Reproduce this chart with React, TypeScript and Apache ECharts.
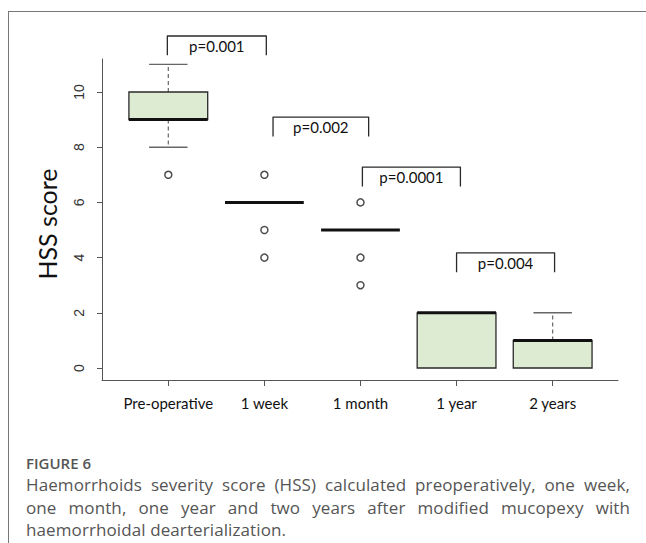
import React, { useEffect, useRef } from "react";
import * as echarts from "echarts";

const categories = ["Pre-operative", "1 week", "1 month", "1 year", "2 years"];
const whiskerLow = [8, 6, 5, 0, 0];
const quartile1 = [9, 6, 5, 0, 0];
const medians = [9, 6, 5, 2, 1];
const quartile3 = [10, 6, 5, 2, 1];
const whiskerHigh = [11, 6, 5, 2, 2];
const outlierGroup = [1, 2, 2, 2, 3, 3, 3];
const outlierValue = [7, 7, 5, 4, 6, 4, 3];
const yTicks = [0, 2, 4, 6, 8, 10];
const xTicks = [1, 2, 3, 4, 5];
const bracketFrom = [0.99, 2.09, 3.02, 4.0];
const bracketTo = [2.02, 3.085, 4.04, 5.02];
const bracketTop = [12.03, 9.09, 7.28, 4.17];
const bracketLabels = ["p=0.001", "p=0.002", "p=0.0001", "p=0.004"];

const captionLines = [
  "Haemorrhoids severity score (HSS) calculated preoperatively, one week,",
  "one month, one year and two years after modified mucopexy with",
  "haemorrhoidal dearterialization.",
];

export default function App() {
  const ref = useRef<HTMLDivElement>(null);

  useEffect(() => {
    if (!ref.current) return;
    const chart = echarts.init(ref.current, undefined, { renderer: "svg" });

    const boxData = categories.map((_, i) => [
      i + 1,
      whiskerLow[i],
      quartile1[i],
      medians[i],
      quartile3[i],
      whiskerHigh[i],
    ]);
    const outliers = outlierGroup.map((g, i) => [g, outlierValue[i]]);
    const brackets = bracketLabels.map((_, i) => [
      bracketFrom[i],
      bracketTo[i],
      bracketTop[i],
      i,
    ]);

    const option: any = {
      animation: false,
      grid: {
        left: 102,
        top: 59,
        width: 516,
        height: 321,
        containLabel: false,
        outerBoundsMode: "none",
      },
      xAxis: {
        type: "value",
        min: 0.31,
        max: 5.68,
        position: "bottom",
        splitLine: { show: false },
        axisLine: { show: true, onZero: false, lineStyle: { color: "#555", width: 1 } },
        axisTick: { show: true, customValues: xTicks, length: 6, lineStyle: { color: "#555" } },
        axisLabel: {
          customValues: xTicks,
          formatter: (v: number) => categories[Math.round(v) - 1] ?? "",
          color: "#111",
          fontFamily: "Lato",
          fontSize: 15,
          margin: 15,
        },
      },
      yAxis: {
        type: "value",
        min: -0.435,
        max: 11.196,
        splitLine: { show: false },
        axisLine: { show: true, onZero: false, lineStyle: { color: "#555", width: 1 } },
        axisTick: { show: true, customValues: yTicks, length: 5, lineStyle: { color: "#555" } },
        axisLabel: {
          customValues: yTicks,
          rotate: 90,
          color: "#333",
          fontFamily: "Liberation Sans",
          fontSize: 14,
          margin: 16,
        },
        name: "HSS score",
        nameLocation: "middle",
        nameGap: 43,
        nameTextStyle: {
          fontFamily: "Lato",
          fontSize: 25,
          color: "#111",
          padding: [0, 9, 0, 0],
        },
      },
      series: [
        {
          type: "custom",
          name: "HSS",
          data: boxData,
          encode: { x: 0, y: [1, 2, 3, 4, 5] },
          renderItem: (params: any, api: any) => {
            const x = api.value(0);
            const lo = api.value(1);
            const q1 = api.value(2);
            const med = api.value(3);
            const q3 = api.value(4);
            const hi = api.value(5);
            const half = 0.41;
            const cap = 0.2;
            const c = (a: number, b: number) => api.coord([a, b]);
            const children: any[] = [];
            if (hi > q3) {
              const a = c(x, q3);
              const b = c(x, hi);
              children.push({
                type: "line",
                shape: { x1: a[0], y1: a[1], x2: b[0], y2: b[1] },
                style: { stroke: "#666", lineWidth: 1.2, lineDash: [4, 3] },
              });
              const l = c(x - cap, hi);
              const r = c(x + cap, hi);
              children.push({
                type: "line",
                shape: { x1: l[0], y1: l[1], x2: r[0], y2: r[1] },
                style: { stroke: "#666", lineWidth: 1.4 },
              });
            }
            if (lo < q1) {
              const a = c(x, q1);
              const b = c(x, lo);
              children.push({
                type: "line",
                shape: { x1: a[0], y1: a[1], x2: b[0], y2: b[1] },
                style: { stroke: "#666", lineWidth: 1.2, lineDash: [4, 3] },
              });
              const l = c(x - cap, lo);
              const r = c(x + cap, lo);
              children.push({
                type: "line",
                shape: { x1: l[0], y1: l[1], x2: r[0], y2: r[1] },
                style: { stroke: "#666", lineWidth: 1.4 },
              });
            }
            if (q3 > q1) {
              const tl = c(x - half, q3);
              const br = c(x + half, q1);
              children.push({
                type: "rect",
                shape: { x: tl[0], y: tl[1], width: br[0] - tl[0], height: br[1] - tl[1] },
                style: { fill: "#ddebd3", stroke: "#2a2a2a", lineWidth: 1.3 },
              });
            }
            const ml = c(x - half, med);
            const mr = c(x + half, med);
            children.push({
              type: "line",
              shape: { x1: ml[0], y1: ml[1], x2: mr[0], y2: mr[1] },
              style: { stroke: "#111", lineWidth: 3 },
            });
            return { type: "group", children };
          },
          z: 2,
        },
        {
          type: "scatter",
          name: "Outliers",
          data: outliers,
          symbol: "circle",
          symbolSize: 7,
          itemStyle: { color: "#fff", borderColor: "#222", borderWidth: 1.5 },
          z: 3,
        },
        {
          type: "custom",
          name: "Significance",
          data: brackets,
          clip: false,
          encode: { x: [0, 1], y: 2 },
          renderItem: (params: any, api: any) => {
            const x1 = api.value(0);
            const x2 = api.value(1);
            const top = api.value(2);
            const idx = api.value(3);
            const leg = top - 0.7;
            const p1 = api.coord([x1, leg]);
            const p2 = api.coord([x1, top]);
            const p3 = api.coord([x2, top]);
            const p4 = api.coord([x2, leg]);
            const t = api.coord([(x1 + x2) / 2, top - 0.37]);
            return {
              type: "group",
              children: [
                {
                  type: "polyline",
                  shape: { points: [p1, p2, p3, p4] },
                  style: { stroke: "#2a2a2a", lineWidth: 1.3, fill: "none", lineJoin: "round" },
                },
                {
                  type: "text",
                  x: t[0],
                  y: t[1],
                  style: {
                    text: bracketLabels[idx],
                    fill: "#111",
                    fontFamily: "Lato",
                    fontSize: 15,
                    align: "center",
                    verticalAlign: "middle",
                  },
                },
              ],
            };
          },
          z: 4,
        },
      ],
    };

    chart.setOption(option);
    return () => chart.dispose();
  }, []);

  return (
    <div
      style={{
        position: "fixed",
        left: 0,
        top: 0,
        width: 646,
        height: 543,
        overflow: "hidden",
        background: "#fff",
      }}
    >
      <div
        style={{
          position: "absolute",
          left: 8,
          top: 11,
          width: 700,
          height: 600,
          borderLeft: "1px solid #777",
          borderTop: "1px solid #777",
        }}
      />
      <div ref={ref} style={{ position: "absolute", left: 0, top: 0, width: 646, height: 430 }} />
      <div
        style={{
          position: "absolute",
          left: 26,
          top: 452,
          width: 604,
          fontFamily: "'Open Sans', sans-serif",
          color: "#555",
        }}
      >
        <div style={{ fontSize: 15, fontWeight: 600, lineHeight: "22px", color: "#555" }}>
          FIGURE 6
        </div>
        {captionLines.map((line, i) => (
          <div
            key={i}
            style={{
              fontSize: 17,
              letterSpacing: 0.1,
              lineHeight: "22.5px",
              textAlign: i < captionLines.length - 1 ? "justify" : "left",
              textAlignLast: i < captionLines.length - 1 ? "justify" : "left",
              whiteSpace: "nowrap",
            }}
          >
            {line}
          </div>
        ))}
      </div>
    </div>
  );
}
